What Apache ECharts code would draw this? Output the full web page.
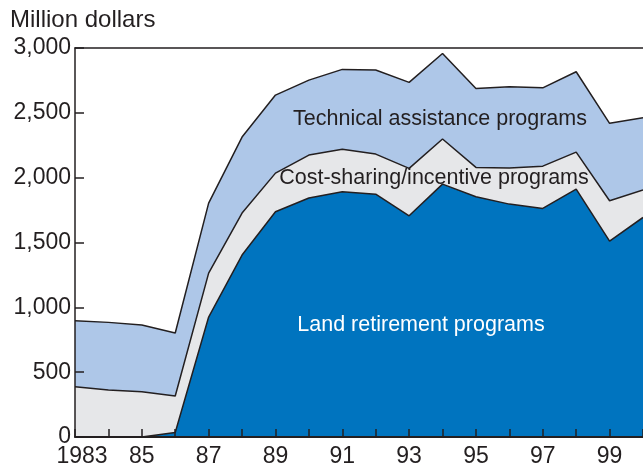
<!DOCTYPE html>
<html>
<head>
<meta charset="utf-8">
<script src="https://cdn.jsdelivr.net/npm/echarts@6/dist/echarts.min.js"></script>
<style>
  html, body { margin: 0; padding: 0; background: #fff; }
  #chart { width: 643px; height: 468px; }
</style>
</head>
<body>
<div id="chart"></div>
<script>
var myChart = echarts.init(document.getElementById('chart'));

// years 1983-2000 (last one is cut off at the right edge)
var years = ['1983','1984','1985','1986','1987','1988','1989','1990','1991',
             '1992','1993','1994','1995','1996','1997','1998','1999','2000'];
// million dollars
var landRetirement = [0, 0, 0, 35, 925, 1403, 1737, 1843, 1891, 1873, 1706, 1950, 1853, 1796, 1763, 1912, 1511, 1693];
var costSharing   = [388, 362, 349, 281, 339, 324, 298, 331, 329, 309, 366, 348, 226, 278, 326, 285, 311, 213];
var technical     = [509, 522, 515, 486, 540, 586, 602, 578, 615, 648, 663, 660, 609, 627, 604, 620, 597, 557];

var ink = '#231f20';
var font = '"Liberation Sans", Arial, Helvetica, sans-serif';

function areaSeries(name, data, color) {
    return {
        type: 'line',
        name: name,
        stack: 'total',
        data: data,
        symbol: 'none',
        lineStyle: { color: ink, width: 1.5 },
        areaStyle: { color: color, opacity: 1 }
    };
}

myChart.setOption({
    animation: false,
    grid: { left: 75, top: 48, right: -11, bottom: 31 },
    xAxis: [{
        type: 'category',
        data: years,
        boundaryGap: false,
        axisLine: { lineStyle: { color: ink, width: 2 } },
        axisTick: { inside: true, length: 8, interval: 0, lineStyle: { color: ink, width: 1.5 } },
        axisLabel: {
            interval: 1,
            margin: 8,
            fontFamily: font,
            fontSize: 23,
            color: ink,
            formatter: function (v, i) {
                return i === 0 ? '{first|' + v + '}' : v.slice(2);
            },
            rich: {
                first: { fontFamily: font, fontSize: 23, color: ink, padding: [0, 0, 0, 14] }
            }
        },
        z: 10
    }, {
        type: 'category',
        data: years,
        position: 'top',
        boundaryGap: false,
        axisLine: { lineStyle: { color: ink, width: 1.5 } },
        axisTick: { show: false },
        axisLabel: { show: false }
    }],
    yAxis: {
        type: 'value',
        min: 0,
        max: 3000,
        interval: 500,
        axisLine: { show: true, lineStyle: { color: ink, width: 1.5 } },
        axisTick: { show: true, inside: true, length: 9, lineStyle: { color: ink, width: 1.5 } },
        splitLine: { show: false },
        axisLabel: {
            margin: 4,
            fontFamily: font,
            fontSize: 23,
            color: ink,
            formatter: function (v) { return v.toLocaleString('en-US'); }
        },
        z: 10
    },
    series: [
        areaSeries('Land retirement programs', landRetirement, '#0074bf'),
        areaSeries('Cost-sharing/incentive programs', costSharing, '#e6e7e9'),
        areaSeries('Technical assistance programs', technical, '#aec7e8')
    ],
    graphic: [
        { type: 'text', left: 10, top: 8,
          style: { text: 'Million dollars', font: '24px ' + font, fill: ink } },
        { type: 'text', x: 440, y: 119, z: 100,
          style: { text: 'Technical assistance programs', font: '21.5px ' + font, fill: ink,
                   align: 'center', verticalAlign: 'middle' } },
        { type: 'text', x: 434, y: 178, z: 100,
          style: { text: 'Cost-sharing/incentive programs', font: '21.5px ' + font, fill: ink,
                   align: 'center', verticalAlign: 'middle' } },
        { type: 'text', x: 421, y: 325, z: 100,
          style: { text: 'Land retirement programs', font: '21.5px ' + font, fill: '#ffffff',
                   align: 'center', verticalAlign: 'middle' } }
    ]
});
</script>
</body>
</html>
